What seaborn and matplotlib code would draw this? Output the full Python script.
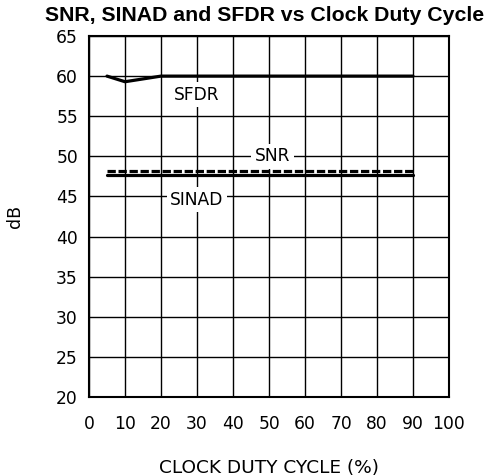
import matplotlib
matplotlib.use("Agg")
import matplotlib.pyplot as plt
import seaborn as sns
import pandas as pd

# Valores
duty = [5, 10, 20, 30, 40, 50, 60, 70, 80, 90]
sfdr = [60.0, 59.3, 60.0, 60.0, 60.0, 60.0, 60.0, 60.0, 60.0, 60.0]
snr = [48.2, 48.2, 48.2, 48.2, 48.2, 48.2, 48.2, 48.2, 48.2, 48.2]
sinad = [47.7, 47.7, 47.7, 47.7, 47.7, 47.7, 47.7, 47.7, 47.7, 47.7]

x_ticks = [0, 10, 20, 30, 40, 50, 60, 70, 80, 90, 100]
y_ticks = [20, 25, 30, 35, 40, 45, 50, 55, 60, 65]

sns.set_style("white")
plt.rcParams.update({
    "font.family": ["DejaVu Sans"],
    "text.color": "black",
    "axes.labelcolor": "black",
    "axes.edgecolor": "black",
    "axes.linewidth": 1.5,
    "xtick.color": "black",
    "ytick.color": "black",
})

df = pd.DataFrame({
    "duty": duty * 3,
    "db": sfdr + snr + sinad,
    "serie": ["SFDR"] * len(duty) + ["SNR"] * len(duty) + ["SINAD"] * len(duty),
})

fig, ax = plt.subplots(figsize=(4.88, 4.76), dpi=100)
fig.subplots_adjust(left=89 / 488, right=449 / 488, top=1 - 36 / 476, bottom=1 - 397 / 476)

ax.set_xlim(0, 100)
ax.set_ylim(20, 65)
ax.set_xticks(x_ticks)
ax.set_yticks(y_ticks)
ax.grid(True, color="black", linewidth=1.0)
ax.set_axisbelow(True)
ax.tick_params(axis="both", length=0, labelsize=12.3)
ax.tick_params(axis="x", pad=13)
ax.tick_params(axis="y", pad=8)

sns.lineplot(
    data=df, x="duty", y="db", hue="serie", style="serie",
    palette={"SFDR": "black", "SNR": "black", "SINAD": "black"},
    dashes={"SFDR": "", "SNR": (2.6, 0.85), "SINAD": ""},
    linewidth=2.3, legend=False, ax=ax, zorder=3,
)

box = dict(facecolor="white", edgecolor="none", pad=2.5)
ax.text(30, 57.7, "SFDR", ha="center", va="center", fontsize=12.3, bbox=box, zorder=4)
ax.text(51, 50, "SNR", ha="center", va="center", fontsize=12.3, bbox=box, zorder=4)
ax.text(30, 44.6, "SINAD", ha="center", va="center", fontsize=12.3, bbox=box, zorder=4)

ax.set_xlabel("CLOCK DUTY CYCLE (%)", fontsize=13.3, labelpad=19)
ax.set_ylabel("dB", fontsize=12.5, labelpad=23)
fig.text(0.543, 0.968, "SNR, SINAD and SFDR vs Clock Duty Cycle", ha="center", va="center",
         fontsize=15.3, fontweight="bold", family="Liberation Sans")

fig.savefig("out.png", dpi=100)
plt.close(fig)
